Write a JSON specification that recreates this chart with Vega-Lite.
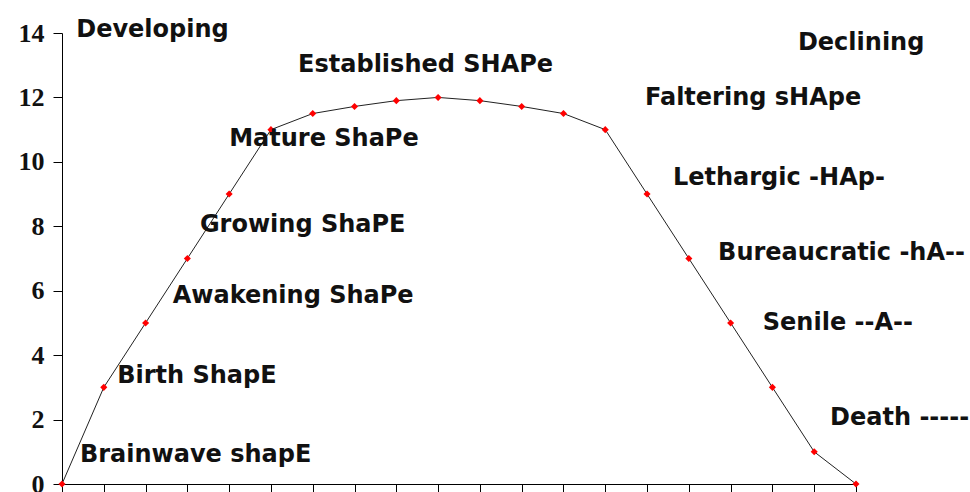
{
  "$schema": "https://vega.github.io/schema/vega-lite/v6.json",
  "width": 794,
  "height": 451,
  "autosize": {"type": "none"},
  "padding": {"left": 62, "top": 33, "right": 114, "bottom": 8},
  "background": "white",
  "config": {"view": {"stroke": null}},
  "datasets": {
    "curve": [
      {"stage": 0, "value": 0},
      {"stage": 1, "value": 3},
      {"stage": 2, "value": 5},
      {"stage": 3, "value": 7},
      {"stage": 4, "value": 9},
      {"stage": 5, "value": 11},
      {"stage": 6, "value": 11.5},
      {"stage": 7, "value": 11.72},
      {"stage": 8, "value": 11.9},
      {"stage": 9, "value": 12},
      {"stage": 10, "value": 11.9},
      {"stage": 11, "value": 11.72},
      {"stage": 12, "value": 11.5},
      {"stage": 13, "value": 11},
      {"stage": 14, "value": 9},
      {"stage": 15, "value": 7},
      {"stage": 16, "value": 5},
      {"stage": 17, "value": 3},
      {"stage": 18, "value": 1},
      {"stage": 19, "value": 0}
    ],
    "labels": [
      {"label": "Developing", "x": 0.34, "y": 13.88},
      {"label": "Established SHAPe", "x": 5.65, "y": 12.79},
      {"label": "Mature ShaPe", "x": 4.0, "y": 10.49},
      {"label": "Growing ShaPE", "x": 3.3, "y": 7.82},
      {"label": "Awakening ShaPe", "x": 2.65, "y": 5.62},
      {"label": "Birth ShapE", "x": 1.32, "y": 3.14},
      {"label": "Brainwave shapE", "x": 0.43, "y": 0.68},
      {"label": "Declining", "x": 17.61, "y": 13.47},
      {"label": "Faltering sHApe", "x": 13.95, "y": 11.77},
      {"label": "Lethargic -HAp-", "x": 14.62, "y": 9.28},
      {"label": "Bureaucratic -hA--", "x": 15.7, "y": 6.95},
      {"label": "Senile --A--", "x": 16.77, "y": 4.78},
      {"label": "Death -----", "x": 18.38, "y": 1.83}
    ]
  },
  "layer": [
    {
      "data": {"name": "curve"},
      "mark": {"type": "line", "color": "#222222", "strokeWidth": 1, "clip": false},
      "encoding": {
        "x": {
          "field": "stage", "type": "quantitative",
          "scale": {"domain": [0, 19], "nice": false, "zero": false},
          "axis": {
            "title": null, "labels": false, "grid": false,
            "values": [0,1,2,3,4,5,6,7,8,9,10,11,12,13,14,15,16,17,18,19],
            "domainColor": "black", "domainWidth": 1,
            "tickColor": "black", "tickSize": 8, "tickWidth": 1
          }
        },
        "y": {
          "field": "value", "type": "quantitative",
          "scale": {"domain": [0, 14], "nice": false},
          "axis": {
            "title": null, "grid": false,
            "values": [0, 2, 4, 6, 8, 10, 12, 14],
            "domainColor": "black", "domainWidth": 1,
            "tickColor": "black", "tickSize": 9, "tickWidth": 1,
            "labelFont": "Liberation Serif", "labelFontWeight": "bold",
            "labelFontSize": 26, "labelColor": "#111111", "labelPadding": 9
          }
        }
      }
    },
    {
      "data": {"name": "curve"},
      "mark": {"type": "point", "shape": "diamond", "filled": true, "color": "#ff0000", "size": 50, "opacity": 1, "clip": false},
      "encoding": {
        "x": {"field": "stage", "type": "quantitative"},
        "y": {"field": "value", "type": "quantitative"}
      }
    },
    {
      "data": {"name": "labels"},
      "mark": {"type": "text", "align": "left", "baseline": "alphabetic", "font": "DejaVu Sans", "fontWeight": "bold", "fontSize": 24, "color": "#111111", "clip": false},
      "encoding": {
        "x": {"field": "x", "type": "quantitative"},
        "y": {"field": "y", "type": "quantitative"},
        "text": {"field": "label"}
      }
    }
  ]
}
